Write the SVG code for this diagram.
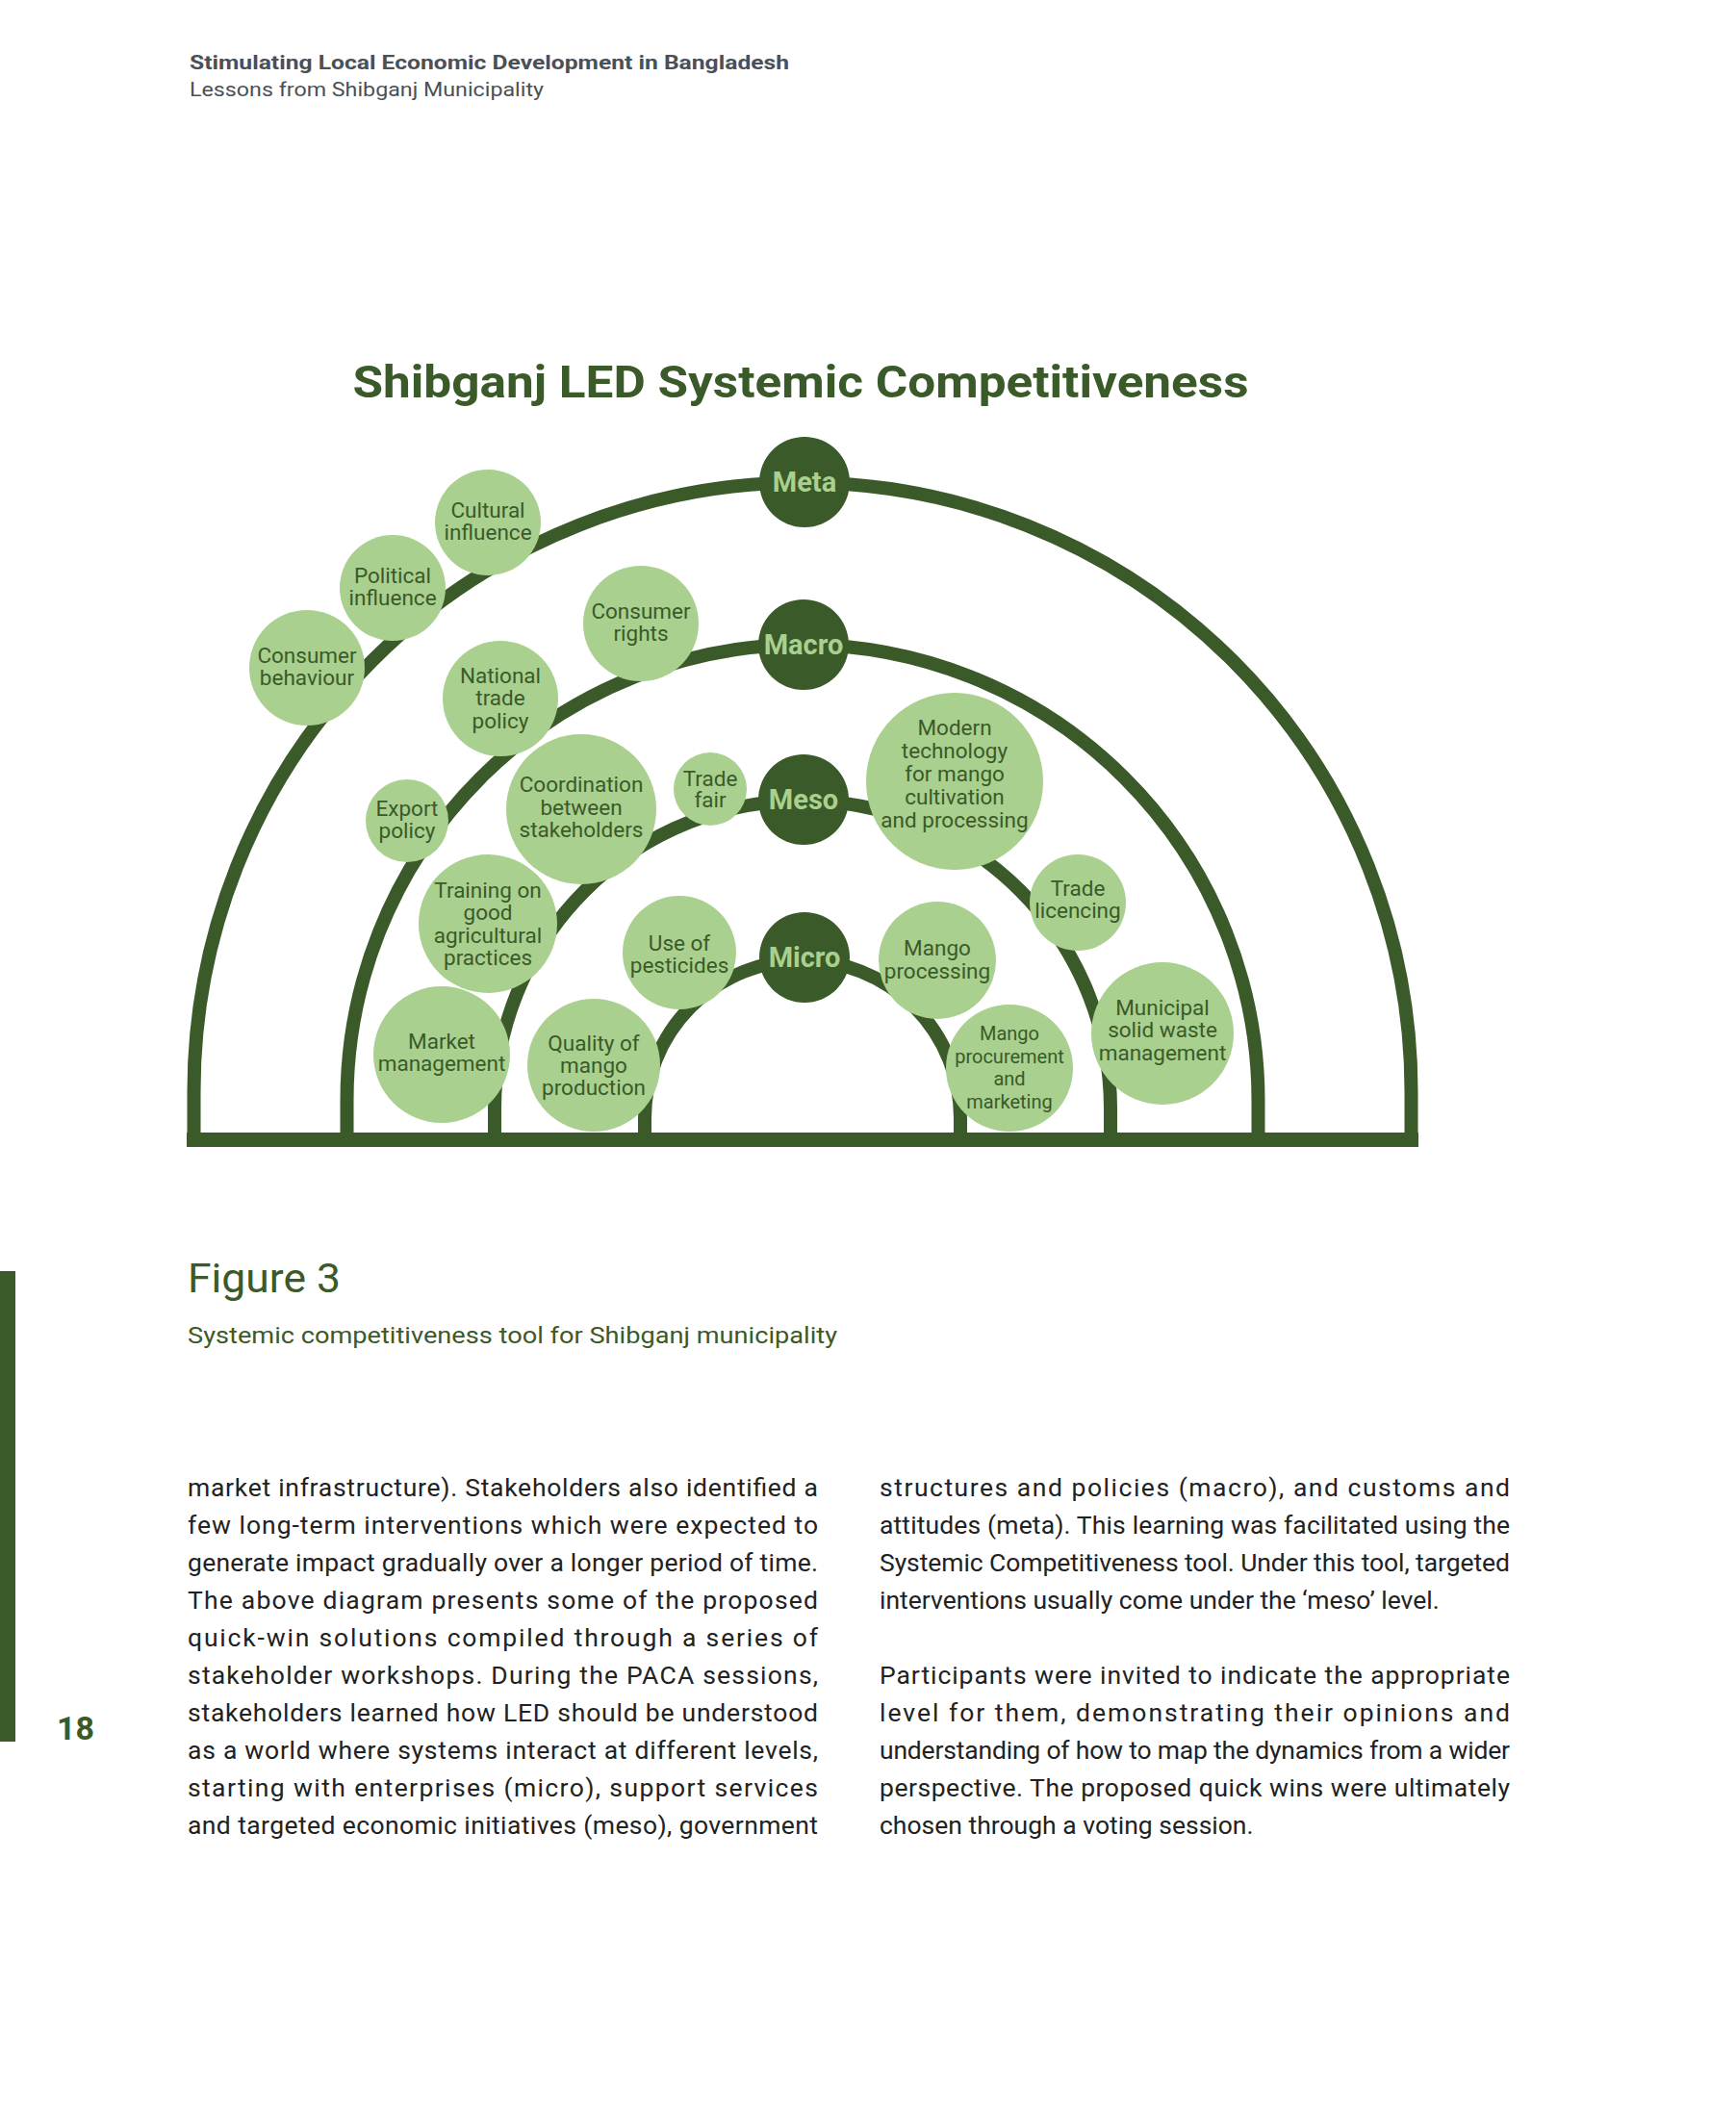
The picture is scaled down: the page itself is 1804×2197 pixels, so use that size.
<svg xmlns="http://www.w3.org/2000/svg" width="1804" height="2197" viewBox="0 0 1804 2197">
<style>
text{font-family:Roboto,"Liberation Sans",sans-serif}
.hd1{font-size:21px;font-weight:700;fill:#4a5058}
.hd2{font-size:21px;fill:#4a5058}
.title{font-size:46px;font-weight:700;fill:#3b5a29;text-anchor:middle}
.arc{fill:none;stroke:#3b5a29;stroke-width:14}
.bub{fill:#a9d08e}
.bt{font-size:22.5px;fill:#3b5a29;text-anchor:middle}
.bts{font-size:20px;fill:#3b5a29;text-anchor:middle}
.lvl{fill:#3b5a29}
.lt{font-size:29px;font-weight:700;fill:#a9d08e;text-anchor:middle}
.fig{font-size:43px;fill:#3b5a29}
.cap{font-size:23.5px;fill:#3b5a29}
.body{font-size:26.5px;fill:#222222}
.pg{font-size:34px;font-weight:700;fill:#3b5a29}
</style>
<rect width="1804" height="2197" fill="#ffffff"/>
<g id="header">
<text class="hd1" x="197" y="72" textLength="623" lengthAdjust="spacingAndGlyphs">Stimulating Local Economic Development in Bangladesh</text>
<text class="hd2" x="197" y="100" textLength="368" lengthAdjust="spacingAndGlyphs">Lessons from Shibganj Municipality</text>
</g>
<text id="title" class="title" x="832" y="413" textLength="931" lengthAdjust="spacingAndGlyphs">Shibganj LED Systemic Competitiveness</text>
<g id="connectors">
<path class="arc" d="M201.5,1184 L201.5,1134 A632.5,632.5 0 0 1 1466.5,1134 L1466.5,1184"/>
<path class="arc" d="M360.5,1184 L360.5,1143.5 A473.5,473.5 0 0 1 1307.5,1143.5 L1307.5,1184"/>
<path class="arc" d="M514,1184 L514,1152 A320,320 0 0 1 1154,1152 L1154,1184"/>
<path class="arc" d="M670,1184 L670,1162 A164,164 0 0 1 998,1162 L998,1184"/>
<rect x="194" y="1177" width="1280" height="15" fill="#3b5a29"/>
</g>
<g id="meta"><circle class="lvl" cx="836" cy="501" r="47"/><text class="lt" x="836" y="511">Meta</text></g>
<g id="macro"><circle class="lvl" cx="835" cy="670" r="47"/><text class="lt" x="835" y="680">Macro</text></g>
<g id="meso"><circle class="lvl" cx="835" cy="831" r="47"/><text class="lt" x="835" y="841">Meso</text></g>
<g id="micro"><circle class="lvl" cx="836" cy="995" r="47"/><text class="lt" x="836" y="1005">Micro</text></g>
<g id="cultural-influence"><circle class="bub" cx="507" cy="543" r="55"/><text class="bt" x="507" y="538">Cultural</text><text class="bt" x="507" y="561">influence</text></g>
<g id="political-influence"><circle class="bub" cx="408" cy="611" r="55"/><text class="bt" x="408" y="606">Political</text><text class="bt" x="408" y="629">influence</text></g>
<g id="consumer-behaviour"><circle class="bub" cx="319" cy="694" r="60"/><text class="bt" x="319" y="689">Consumer</text><text class="bt" x="319" y="712">behaviour</text></g>
<g id="consumer-rights"><circle class="bub" cx="666" cy="648" r="60"/><text class="bt" x="666" y="643">Consumer</text><text class="bt" x="666" y="666">rights</text></g>
<g id="national-trade-policy"><circle class="bub" cx="520" cy="726" r="60"/><text class="bt" x="520" y="710">National</text><text class="bt" x="520" y="733">trade</text><text class="bt" x="520" y="757">policy</text></g>
<g id="coordination"><circle class="bub" cx="604" cy="841" r="78"/><text class="bt" x="604" y="823">Coordination</text><text class="bt" x="604" y="847">between</text><text class="bt" x="604" y="870">stakeholders</text></g>
<g id="trade-fair"><circle class="bub" cx="738" cy="820" r="38"/><text class="bt" x="738" y="817">Trade</text><text class="bt" x="738" y="839">fair</text></g>
<g id="export-policy"><circle class="bub" cx="423" cy="853" r="43"/><text class="bt" x="423" y="848">Export</text><text class="bt" x="423" y="871">policy</text></g>
<g id="training"><circle class="bub" cx="507" cy="960" r="72"/><text class="bt" x="507" y="933">Training on</text><text class="bt" x="507" y="956">good</text><text class="bt" x="507" y="980">agricultural</text><text class="bt" x="507" y="1003">practices</text></g>
<g id="market-management"><circle class="bub" cx="459" cy="1096" r="71"/><text class="bt" x="459" y="1090">Market</text><text class="bt" x="459" y="1113">management</text></g>
<g id="quality-mango"><circle class="bub" cx="617" cy="1107" r="69"/><text class="bt" x="617" y="1092">Quality of</text><text class="bt" x="617" y="1115">mango</text><text class="bt" x="617" y="1138">production</text></g>
<g id="use-pesticides"><circle class="bub" cx="706" cy="990" r="59"/><text class="bt" x="706" y="988">Use of</text><text class="bt" x="706" y="1011">pesticides</text></g>
<g id="modern-technology"><circle class="bub" cx="992" cy="812" r="92"/><text class="bt" x="992" y="764">Modern</text><text class="bt" x="992" y="788">technology</text><text class="bt" x="992" y="812">for mango</text><text class="bt" x="992" y="836">cultivation</text><text class="bt" x="992" y="860">and processing</text></g>
<g id="mango-processing"><circle class="bub" cx="974" cy="998" r="61"/><text class="bt" x="974" y="993">Mango</text><text class="bt" x="974" y="1017">processing</text></g>
<g id="trade-licencing"><circle class="bub" cx="1120" cy="938" r="50"/><text class="bt" x="1120" y="931">Trade</text><text class="bt" x="1120" y="954">licencing</text></g>
<g id="mango-procurement"><circle class="bub" cx="1049" cy="1110" r="66"/><text class="bts" x="1049" y="1081">Mango</text><text class="bts" x="1049" y="1105">procurement</text><text class="bts" x="1049" y="1128">and</text><text class="bts" x="1049" y="1152">marketing</text></g>
<g id="municipal-waste"><circle class="bub" cx="1208" cy="1074" r="74"/><text class="bt" x="1208" y="1055">Municipal</text><text class="bt" x="1208" y="1078">solid waste</text><text class="bt" x="1208" y="1102">management</text></g>
<g id="caption">
<rect x="0" y="1321" width="16" height="489" fill="#3b5a29"/>
<text class="fig" x="195" y="1343" textLength="159" lengthAdjust="spacingAndGlyphs">Figure 3</text>
<text class="cap" x="195" y="1396" textLength="675" lengthAdjust="spacingAndGlyphs">Systemic competitiveness tool for Shibganj municipality</text>
</g>
<g id="body-left">
<text class="body" x="195" y="1555" textLength="655" lengthAdjust="spacing">market infrastructure). Stakeholders also identified a</text>
<text class="body" x="195" y="1594" textLength="655" lengthAdjust="spacing">few long-term interventions which were expected to</text>
<text class="body" x="195" y="1633" textLength="655" lengthAdjust="spacing">generate impact gradually over a longer period of time.</text>
<text class="body" x="195" y="1672" textLength="655" lengthAdjust="spacing">The above diagram presents some of the proposed</text>
<text class="body" x="195" y="1711" textLength="655" lengthAdjust="spacing">quick-win solutions compiled through a series of</text>
<text class="body" x="195" y="1750" textLength="655" lengthAdjust="spacing">stakeholder workshops. During the PACA sessions,</text>
<text class="body" x="195" y="1789" textLength="655" lengthAdjust="spacing">stakeholders learned how LED should be understood</text>
<text class="body" x="195" y="1828" textLength="655" lengthAdjust="spacing">as a world where systems interact at different levels,</text>
<text class="body" x="195" y="1867" textLength="655" lengthAdjust="spacing">starting with enterprises (micro), support services</text>
<text class="body" x="195" y="1906" textLength="655" lengthAdjust="spacing">and targeted economic initiatives (meso), government</text>
</g>
<g id="body-right">
<text class="body" x="914" y="1555" textLength="655" lengthAdjust="spacing">structures and policies (macro), and customs and</text>
<text class="body" x="914" y="1594" textLength="655" lengthAdjust="spacing">attitudes (meta). This learning was facilitated using the</text>
<text class="body" x="914" y="1633" textLength="655" lengthAdjust="spacing">Systemic Competitiveness tool. Under this tool, targeted</text>
<text class="body" x="914" y="1672">interventions usually come under the ‘meso’ level.</text>
<text class="body" x="914" y="1750" textLength="655" lengthAdjust="spacing">Participants were invited to indicate the appropriate</text>
<text class="body" x="914" y="1789" textLength="655" lengthAdjust="spacing">level for them, demonstrating their opinions and</text>
<text class="body" x="914" y="1828" textLength="655" lengthAdjust="spacing">understanding of how to map the dynamics from a wider</text>
<text class="body" x="914" y="1867" textLength="655" lengthAdjust="spacing">perspective. The proposed quick wins were ultimately</text>
<text class="body" x="914" y="1906">chosen through a voting session.</text>
</g>
<text id="page-number" class="pg" x="59" y="1808">18</text>
</svg>
